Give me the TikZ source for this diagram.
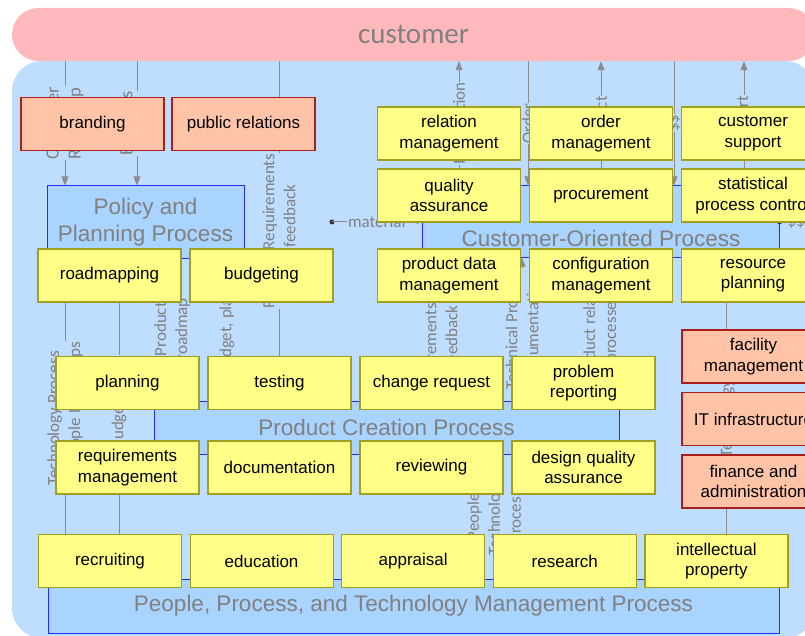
\documentclass[tikz,border=0pt]{standalone}
\usepackage{fontspec}
\setmainfont{Liberation Sans}
\newfontfamily\carlito{Carlito}
\usetikzlibrary{arrows.meta}
\usetikzlibrary{positioning}

\pgfdeclarelayer{back}
\pgfdeclarelayer{flows}
\pgfsetlayers{back,flows,main}

\newcommand\boxfont{\fontsize{17}{20.5}\selectfont}
\newcommand\processfont{\fontsize{22.5}{27}\selectfont}
\newcommand\flowfont{\carlito\fontsize{17}{21}\selectfont}
\newcommand\bigflowfont{\carlito\fontsize{18.5}{22}\selectfont}

\begin{document}
\begin{tikzpicture}
[x = 1pt, y = -1pt, line cap = round,
task/.style = {draw = taskline, fill = taskfill, line width = 1.2pt, minimum width = 143pt, minimum height = 53pt, inner sep = 0pt, align = center, font = \boxfont},
staff task/.style = {task, draw = staffline, fill = stafffill},
process/.style = {draw = processline, fill = processfill, line width = 1pt, inner sep = 0pt, align = center, font = \processfont, text = textgray},
flow/.style = {draw = flowgray, line width = 1pt},
flow arrow/.style = {flow, -{Triangle[length = 9pt, width = 7pt]}},
flow label/.style = {fill = bgblue, inner sep = 0.5pt, align = center, font = \flowfont, text = textgray, rotate = 90}]

\definecolor{bgblue}{RGB}{191,222,255}
\definecolor{bandpink}{RGB}{255,185,189}
\definecolor{processfill}{RGB}{168,212,255}
\definecolor{processline}{RGB}{40,40,255}
\definecolor{taskfill}{RGB}{255,255,136}
\definecolor{taskline}{RGB}{160,160,30}
\definecolor{stafffill}{RGB}{255,196,168}
\definecolor{staffline}{RGB}{170,30,30}
\definecolor{flowgray}{RGB}{140,140,140}
\definecolor{textgray}{RGB}{128,128,128}

\useasboundingbox (0, 0) rectangle (805, 636);
\clip (0, 0) rectangle (805, 636);

\begin{pgfonlayer}{back}
\clip (0, 0) rectangle (805, 636);
\fill[bgblue, rounded corners = 30pt] (12, 61) rectangle (815, 638);
\node[fill = bandpink, rounded corners = 26.5pt, minimum width = 803pt, minimum height = 53pt, inner sep = 0pt, text = textgray, font = \carlito\fontsize{29}{33}\selectfont] (customer) at (413.5, 34.5) {customer};

% processes
\node[process, minimum width = 197pt, minimum height = 72pt] (policy) at (145.5, 222) {Policy and\\Planning Process};
\node[process, minimum width = 357pt, minimum height = 71pt] (co) at (600.5, 221.5) {};
\node[text = textgray, font = \processfont] at (601, 238) {Customer-Oriented Process};
\node[process, minimum width = 465pt, minimum height = 53pt] (pcp) at (386.5, 427.5) {Product Creation Process};
\node[process, minimum width = 731pt, minimum height = 54pt] (pptm) at (413.5, 606) {People, Process, and Technology Management Process};
\end{pgfonlayer}

% tasks
\node[staff task] (branding) at (92.5, 124) {branding};
\node[staff task] (relations) at (243.5, 124) {public relations};
\node[task] (roadmapping) at (109.5, 275.5) {roadmapping};
\node[task] (budgeting) at (261.5, 275.5) {budgeting};
\foreach \name/\txt [count = \i from 0] in {relation/relation\\management, order/order\\management, support/customer\\support}
  \node[task] (\name) at (449 + 152*\i, 133.5) {\txt};
\foreach \name/\txt [count = \i from 0] in {quality/quality\\assurance, procurement/procurement, spc/statistical\\process control}
  \node[task] (\name) at (449 + 152*\i, 195.5) {\txt};
\foreach \name/\txt [count = \i from 0] in {pdm/product data\\management, config/configuration\\management, resource/resource\\planning}
  \node[task] (\name) at (449 + 152*\i, 275.5) {\txt};
\foreach \name/\txt [count = \i from 0] in {planning/planning, testing/testing, change/change request, problem/problem\\reporting}
  \node[task] (\name) at (127.5 + 152*\i, 383) {\txt};
\foreach \name/\txt [count = \i from 0] in {requirements/requirements\\management, documentation/documentation, reviewing/reviewing, design/design quality\\assurance}
  \node[task] (\name) at (127.5 + 152*\i, 467.5) {\txt};
\foreach \name/\txt [count = \i from 0] in {facility/facility\\management, it/IT infrastructure, finance/finance and\\administration}
  \node[staff task] (\name) at (753.5, 356.5 + 62.5*\i) {\txt};
\foreach \name/\txt [count = \i from 0] in {recruiting/recruiting, education/education, appraisal/appraisal, research/research, property/intellectual\\property}
  \node[task] (\name) at (110 + 151.6*\i, 561) {\txt};

\begin{pgfonlayer}{flows}
\clip (0, 0) rectangle (805, 636);
% flows to and from the customer
\draw[flow arrow] (65, 0 |- customer.south) -- node[flow label, font = \bigflowfont] {Customer\\Roadmap} (65, 0 |- policy.north);
\draw[flow arrow] (137, 0 |- customer.south) -- node[flow label, font = \bigflowfont] {Business\\Drivers} (137, 0 |- policy.north);
\draw[flow] (279, 0 |- customer.south) -- node[flow label, pos = 0.576] {Product Requirements\\and feedback} (279, 0 |- testing.north);
\draw[flow arrow] (459, 0 |- co.north) -- node[flow label] {Information} (459, 0 |- customer.south);
\draw[flow arrow] (528, 0 |- customer.south) -- node[flow label] {Order} (528, 0 |- co.north);
\draw[flow arrow] (601, 0 |- co.north) -- node[flow label] {Product} (601, 0 |- customer.south);
\draw[flow arrow] (674, 0 |- customer.south) -- node[flow label] {\$\$} (674, 0 |- co.north);
\draw[flow arrow] (744, 0 |- co.north) -- node[flow label] {Support} (744, 0 |- customer.south);

\coordinate (material) at (332, 222);
\fill[black!80] (material) circle [radius = 2.5pt];
\draw[flow, -{Triangle[length = 5pt, width = 4pt]}] (material) -- node[fill = bgblue, inner sep = 1pt, font = \flowfont, text = textgray] {material} (co.west |- material);
\coordinate (money) at (co.east |- material);
\fill[black!80] (money) circle [radius = 2.5pt];
\draw[flow, -{Triangle[length = 5pt, width = 4pt]}] (money) -- node[fill = bgblue, inner sep = 1pt, font = \flowfont, text = textgray] {\$\$} (813, 222);

% flows between the processes
\draw[flow] (65, 0 |- roadmapping.south) -- node[flow label] {Technology Process\\and People Roadmaps} (65, 0 |- recruiting.north);
\draw[flow] (119, 0 |- roadmapping.south) -- node[flow label, pos = 0.431] {Budget, plans} (119, 0 |- recruiting.north);
\draw[flow] (172, 0 |- roadmapping.south) -- node[flow label] {Product\\roadmap} (172, 0 |- planning.north);
\draw[flow] (227, 0 |- budgeting.south) -- node[flow label] {Budget, plans} (227, 0 |- testing.north);
\draw[flow] (441, 0 |- pdm.south) -- node[flow label] {Requirements\\and feedback} (441, 0 |- pcp.north);
\draw[flow arrow] (522, 0 |- pcp.north) -- node[flow label] {Technical Product\\Documentation} (522, 0 |- co.south);
\draw[flow] (601, 0 |- co.south) -- node[flow label] {Product related\\processes} (601, 0 |- pcp.north);
\draw[flow] (494, 0 |- pcp.south) -- node[flow label] {People\\Technology\\Process} (494, 0 |- pptm.north);
\draw[flow] (726, 0 |- resource.south) -- node[flow label] {People\\Technology\\Process} (726, 0 |- property.north);
\end{pgfonlayer}

\end{tikzpicture}
\end{document}
